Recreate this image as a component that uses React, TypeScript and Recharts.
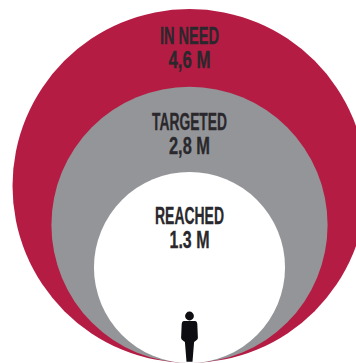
import { ScatterChart, Scatter, XAxis, YAxis, ZAxis, ReferenceDot } from 'recharts';

// people, in millions
const names = ['IN NEED', 'TARGETED', 'REACHED'];
const valueLabels = ['4,6 M', '2,8 M', '1.3 M'];
// circle areas as measured on the picture (the smallest is drawn a little over its label)
const values = [4.6, 2.8, 1.34];

// circle area follows the value, and all circles sit on the same bottom point
const data = names.map((name, i) => ({
  name,
  label: valueLabels[i],
  x: 0,
  y: Math.sqrt(values[i]),
  z: values[i],
}));

const WIDTH = 356;
const HEIGHT = 363;
const MAX_RADIUS = 177;
const CENTER_X = 189.5;
const pxPerUnit = MAX_RADIUS / Math.sqrt(values[0]);

const COLORS = ['#B51C44', '#939598', '#FFFFFF'];
const TEXT_COLOR = '#2A282C';

// offsets from the top of each circle and squeezed text widths
const LABEL_LAYOUT = [
  { first: 34.5, second: 58.5, nameWidth: 59, valueWidth: 42 },
  { first: 43.5, second: 67.5, nameWidth: 75, valueWidth: 41 },
  { first: 52, second: 76, nameWidth: 69, valueWidth: 40 },
];

const textProps = {
  fill: TEXT_COLOR,
  stroke: TEXT_COLOR,
  strokeWidth: 0.3,
  fontFamily: '"Liberation Sans Narrow", "Liberation Sans", sans-serif',
  fontWeight: 700,
  fontSize: 23,
  textAnchor: 'middle' as const,
  lengthAdjust: 'spacingAndGlyphs' as const,
};

function Bubble(props: any) {
  const { cx, cy, size, payload } = props;
  const i = names.indexOf(payload.name);
  const r = Math.sqrt(size / Math.PI);
  const top = cy - r;
  const layout = LABEL_LAYOUT[i];
  return (
    <g>
      <circle cx={cx} cy={cy} r={r} fill={COLORS[i]} />
      <text {...textProps} x={cx} y={top + layout.first} textLength={layout.nameWidth}>
        {payload.name}
      </text>
      <text {...textProps} x={cx} y={top + layout.second} textLength={layout.valueWidth}>
        {payload.label}
      </text>
    </g>
  );
}

function Person(props: any) {
  const { cx, cy } = props;
  return (
    <g transform={`translate(${cx} ${cy})`} fill="#0E0D12">
      <circle cx={0} cy={-47} r={4.4} />
      <path d="M-5.5 -42 H5.5 Q7.5 -42 7.8 -39 L8.4 -25 Q8.4 -23.5 6 -22 L4.6 -21 L3 -1.2 H-3 L-4.6 -21 L-6 -22 Q-8.4 -23.5 -8.4 -25 L-7.8 -39 Q-7.5 -42 -5.5 -42 Z" />
    </g>
  );
}

export default function App() {
  return (
    <div style={{ position: 'absolute', left: 0, top: 0, width: WIDTH, height: HEIGHT, overflow: 'hidden', background: '#fff' }}>
      <ScatterChart width={WIDTH} height={HEIGHT} margin={{ top: 0, right: 0, bottom: 0, left: 0 }}>
        <XAxis
          type="number"
          dataKey="x"
          hide
          domain={[-CENTER_X / pxPerUnit, (WIDTH - CENTER_X) / pxPerUnit]}
        />
        <YAxis type="number" dataKey="y" hide domain={[0, HEIGHT / pxPerUnit]} />
        <ZAxis
          type="number"
          dataKey="z"
          domain={[0, values[0]]}
          range={[0, Math.PI * MAX_RADIUS * MAX_RADIUS]}
        />
        <Scatter data={data} shape={Bubble} isAnimationActive={false} />
        <ReferenceDot x={0} y={0} shape={Person} ifOverflow="visible" />
      </ScatterChart>
    </div>
  );
}
